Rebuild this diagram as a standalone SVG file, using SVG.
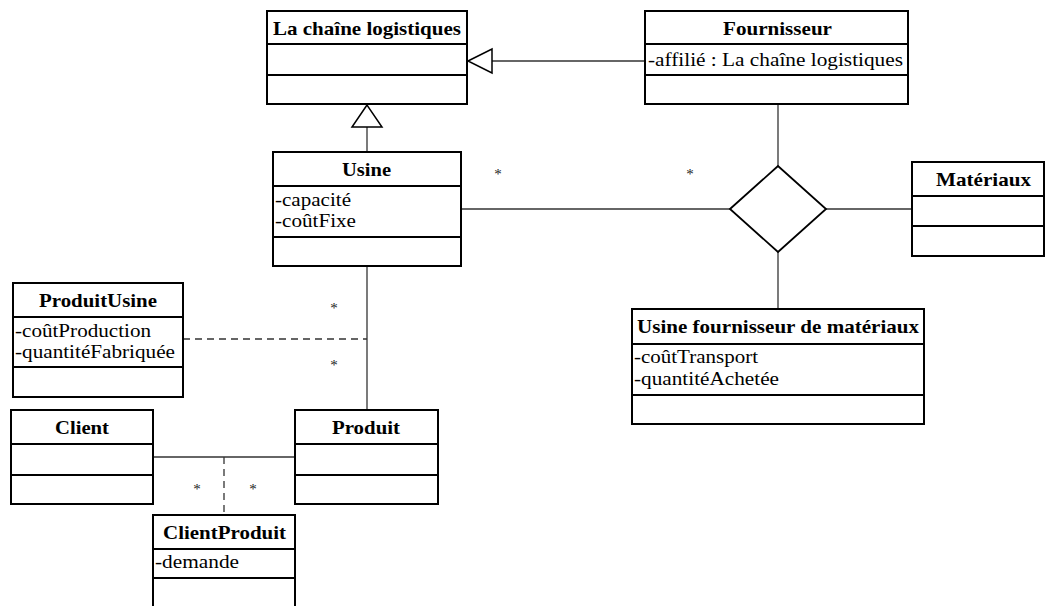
<svg xmlns="http://www.w3.org/2000/svg" width="1046" height="606" viewBox="0 0 1046 606">
<style>
.box{fill:#fff;stroke:#000;stroke-width:2}
.div{stroke:#000;stroke-width:2}
.t{font-family:"Liberation Serif","Times New Roman",serif;font-size:19px;font-weight:bold;fill:#000}
.a{font-family:"Liberation Serif","Times New Roman",serif;font-size:18px;fill:#000}
.s{font-family:"Liberation Serif","Times New Roman",serif;font-size:15px;fill:#222;text-anchor:middle}
.c{stroke:#333;stroke-width:1.3;fill:none}
.d{stroke:#333;stroke-width:1.3;fill:none;stroke-dasharray:7,5}
</style>
<rect width="1046" height="606" fill="#fff"/>
<g id="connectors">
<line class="c" x1="492" y1="61" x2="645" y2="61"/>
<polygon points="468,61 492,49 492,73" fill="#fff" stroke="#000" stroke-width="1.5"/>
<line class="c" x1="367" y1="127" x2="367" y2="152"/>
<polygon points="367,105 352,127 382,127" fill="#fff" stroke="#000" stroke-width="1.5"/>
<line class="c" x1="778" y1="104" x2="778" y2="166"/>
<line class="c" x1="461" y1="209" x2="730" y2="209"/>
<line class="c" x1="826" y1="209" x2="912" y2="209"/>
<line class="c" x1="778" y1="252" x2="778" y2="309"/>
<polygon points="730,209 778,166 826,209 778,252" fill="#fff" stroke="#000" stroke-width="1.8"/>
<line class="c" x1="367" y1="266" x2="367" y2="410"/>
<line class="d" x1="183" y1="339" x2="367" y2="339"/>
<line class="c" x1="153" y1="457" x2="295" y2="457"/>
<line class="d" x1="224" y1="457" x2="224" y2="515"/>
<text class="s" x="498" y="179">*</text>
<text class="s" x="690" y="179">*</text>
<text class="s" x="334" y="313">*</text>
<text class="s" x="334" y="370">*</text>
<text class="s" x="197" y="494">*</text>
<text class="s" x="253" y="494">*</text>
</g>
<g id="chaine">
<rect class="box" x="267" y="11" width="200" height="93"/>
<line class="div" x1="267" y1="44" x2="467" y2="44"/>
<line class="div" x1="267" y1="75" x2="467" y2="75"/>
<text class="t" x="273" y="35" textLength="188" lengthAdjust="spacingAndGlyphs">La chaîne logistiques</text>
</g>
<g id="fournisseur">
<rect class="box" x="645" y="11" width="263" height="93"/>
<line class="div" x1="645" y1="44" x2="908" y2="44"/>
<line class="div" x1="645" y1="75" x2="908" y2="75"/>
<text class="t" x="723" y="35" textLength="109" lengthAdjust="spacingAndGlyphs">Fournisseur</text>
<text class="a" x="648" y="66" textLength="255" lengthAdjust="spacingAndGlyphs">-affilié : La chaîne logistiques</text>
</g>
<g id="usine">
<rect class="box" x="273" y="152" width="188" height="114"/>
<line class="div" x1="273" y1="186" x2="461" y2="186"/>
<line class="div" x1="273" y1="237" x2="461" y2="237"/>
<text class="t" x="342" y="176" textLength="49" lengthAdjust="spacingAndGlyphs">Usine</text>
<text class="a" x="275" y="206" textLength="76" lengthAdjust="spacingAndGlyphs">-capacité</text>
<text class="a" x="275" y="227" textLength="81" lengthAdjust="spacingAndGlyphs">-coûtFixe</text>
</g>
<g id="materiaux">
<rect class="box" x="912" y="162" width="132" height="94"/>
<line class="div" x1="912" y1="196" x2="1044" y2="196"/>
<line class="div" x1="912" y1="226" x2="1044" y2="226"/>
<text class="t" x="936" y="186" textLength="95" lengthAdjust="spacingAndGlyphs">Matériaux</text>
</g>
<g id="usinefournisseur">
<rect class="box" x="632" y="309" width="292" height="115"/>
<line class="div" x1="632" y1="344" x2="924" y2="344"/>
<line class="div" x1="632" y1="395" x2="924" y2="395"/>
<text class="t" x="637" y="333" textLength="282" lengthAdjust="spacingAndGlyphs">Usine fournisseur de matériaux</text>
<text class="a" x="634" y="363" textLength="124" lengthAdjust="spacingAndGlyphs">-coûtTransport</text>
<text class="a" x="634" y="385" textLength="145" lengthAdjust="spacingAndGlyphs">-quantitéAchetée</text>
</g>
<g id="produitusine">
<rect class="box" x="13" y="283" width="170" height="114"/>
<line class="div" x1="13" y1="317" x2="183" y2="317"/>
<line class="div" x1="13" y1="367" x2="183" y2="367"/>
<text class="t" x="39" y="307" textLength="118" lengthAdjust="spacingAndGlyphs">ProduitUsine</text>
<text class="a" x="15" y="337" textLength="136" lengthAdjust="spacingAndGlyphs">-coûtProduction</text>
<text class="a" x="15" y="358" textLength="160" lengthAdjust="spacingAndGlyphs">-quantitéFabriquée</text>
</g>
<g id="client">
<rect class="box" x="11" y="410" width="142" height="94"/>
<line class="div" x1="11" y1="444" x2="153" y2="444"/>
<line class="div" x1="11" y1="475" x2="153" y2="475"/>
<text class="t" x="55" y="434" textLength="54" lengthAdjust="spacingAndGlyphs">Client</text>
</g>
<g id="produit">
<rect class="box" x="295" y="410" width="143" height="94"/>
<line class="div" x1="295" y1="444" x2="438" y2="444"/>
<line class="div" x1="295" y1="475" x2="438" y2="475"/>
<text class="t" x="332" y="434" textLength="68" lengthAdjust="spacingAndGlyphs">Produit</text>
</g>
<g id="clientproduit">
<rect class="box" x="153" y="515" width="142" height="110"/>
<line class="div" x1="153" y1="549" x2="295" y2="549"/>
<line class="div" x1="153" y1="578" x2="295" y2="578"/>
<text class="t" x="163" y="539" textLength="123" lengthAdjust="spacingAndGlyphs">ClientProduit</text>
<text class="a" x="155" y="568" textLength="84" lengthAdjust="spacingAndGlyphs">-demande</text>
</g>
</svg>
